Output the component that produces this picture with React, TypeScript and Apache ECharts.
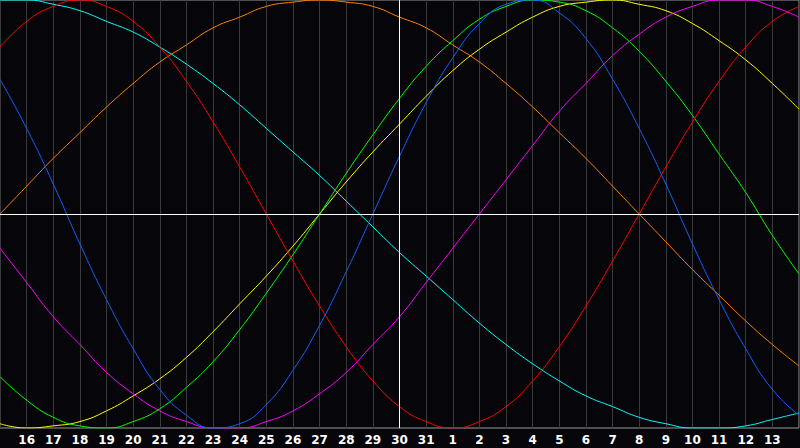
import React, { useEffect, useRef } from "react";
import * as echarts from "echarts";

const days = [
  "15", "16", "17", "18", "19", "20", "21", "22", "23", "24", "25", "26", "27", "28", "29", "30", "31",
  "1", "2", "3", "4", "5", "6", "7", "8", "9", "10", "11", "12", "13", "14",
];

// Physical (23 days)
const physical = [0.63, 0.4, 0.14, -0.14, -0.4, -0.63, -0.82, -0.94, -1.0, -0.98, -0.89, -0.73, -0.52, -0.27, 0, 0.27, 0.52, 0.73, 0.89, 0.98, 1.0, 0.94, 0.82, 0.63, 0.4, 0.14, -0.14, -0.4, -0.63, -0.82, -0.94];
// Emotional (28 days)
const emotional = [0.78, 0.9, 0.97, 1.0, 0.97, 0.9, 0.78, 0.62, 0.43, 0.22, 0, -0.22, -0.43, -0.62, -0.78, -0.9, -0.97, -1.0, -0.97, -0.9, -0.78, -0.62, -0.43, -0.22, 0, 0.22, 0.43, 0.62, 0.78, 0.9, 0.97];
// Intellectual (33 days)
const intellectual = [-0.76, -0.87, -0.95, -0.99, -1.0, -0.97, -0.91, -0.81, -0.69, -0.54, -0.37, -0.19, 0, 0.19, 0.37, 0.54, 0.69, 0.81, 0.91, 0.97, 1.0, 0.99, 0.95, 0.87, 0.76, 0.62, 0.46, 0.28, 0.1, -0.1, -0.28];
// Intuitive (38 days)
const intuitive = [-0.16, -0.32, -0.48, -0.61, -0.74, -0.84, -0.92, -0.97, -1.0, -1.0, -0.97, -0.92, -0.84, -0.74, -0.61, -0.48, -0.32, -0.16, 0, 0.16, 0.32, 0.48, 0.61, 0.74, 0.84, 0.92, 0.97, 1.0, 1.0, 0.97, 0.92];
// Aesthetic (43 days)
const aesthetic = [-0.98, -1.0, -0.99, -0.97, -0.92, -0.85, -0.77, -0.67, -0.55, -0.42, -0.29, -0.15, 0, 0.15, 0.29, 0.42, 0.55, 0.67, 0.77, 0.85, 0.92, 0.97, 0.99, 1.0, 0.98, 0.95, 0.89, 0.81, 0.72, 0.61, 0.49];
// Awareness (48 days)
const awareness = [0, 0.13, 0.26, 0.38, 0.5, 0.61, 0.71, 0.79, 0.87, 0.92, 0.97, 0.99, 1.0, 0.99, 0.97, 0.92, 0.87, 0.79, 0.71, 0.61, 0.5, 0.38, 0.26, 0.13, 0, -0.13, -0.26, -0.38, -0.5, -0.61, -0.71];
// Spiritual (53 days)
const spiritual = [1.0, 1.0, 0.98, 0.95, 0.9, 0.85, 0.78, 0.7, 0.61, 0.51, 0.4, 0.29, 0.18, 0.06, -0.06, -0.18, -0.29, -0.4, -0.51, -0.61, -0.7, -0.78, -0.85, -0.9, -0.95, -0.98, -1.0, -1.0, -0.99, -0.96, -0.93];

const todayIndex = 15;

const seriesDefs = [
  { name: "Spiritual", data: spiritual, color: "#00ffff" },
  { name: "Awareness", data: awareness, color: "#ff8000" },
  { name: "Aesthetic", data: aesthetic, color: "#ffff00" },
  { name: "Intuitive", data: intuitive, color: "#ff00ff" },
  { name: "Intellectual", data: intellectual, color: "#00ff00" },
  { name: "Emotional", data: emotional, color: "#ff0000" },
  { name: "Physical", data: physical, color: "#1060ff" },
];

export default function App() {
  const ref = useRef<HTMLDivElement>(null);
  useEffect(() => {
    if (!ref.current) return;
    const chart = echarts.init(ref.current, null, { renderer: "svg" });
    const series: any[] = seriesDefs.map((s) => ({
      name: s.name,
      type: "line",
      data: s.data,
      smooth: true,
      symbol: "none",
      lineStyle: { color: s.color, width: 1 },
      itemStyle: { color: s.color },
      z: 3,
    }));
    series.push({
      name: "axes",
      type: "line",
      data: [],
      markLine: {
        silent: true,
        symbol: "none",
        label: { show: false },
        lineStyle: { color: "#ffffff", width: 1, type: "solid" },
        data: [{ yAxis: 0 }, { xAxis: todayIndex }],
      },
      z: 2,
    });
    chart.setOption({
      animation: false,
      backgroundColor: "#060509",
      grid: {
        left: 0,
        right: 1,
        top: 0,
        bottom: 20,
        show: true,
        borderColor: "#9a9a9a",
        borderWidth: 1,
        backgroundColor: "transparent",
      },
      xAxis: {
        type: "category",
        data: days,
        boundaryGap: false,
        axisLine: { show: false },
        axisTick: { show: false },
        splitLine: { show: true, interval: 0, lineStyle: { color: "#3a3a3a", width: 1 } },
        axisLabel: {
          interval: (idx: number) => idx > 0 && idx < days.length - 1,
          color: "#ffffff",
          fontWeight: "bold",
          fontSize: 12,
          fontFamily: "DejaVu Sans",
          margin: 6,
        },
      },
      yAxis: {
        type: "value",
        min: -1,
        max: 1,
        axisLine: { show: false },
        axisTick: { show: false },
        axisLabel: { show: false },
        splitLine: { show: false },
      },
      series,
    });
    return () => chart.dispose();
  }, []);
  return (
    <div
      ref={ref}
      style={{ position: "absolute", left: 0, top: 0, width: 800, height: 448, background: "#060509" }}
    />
  );
}
